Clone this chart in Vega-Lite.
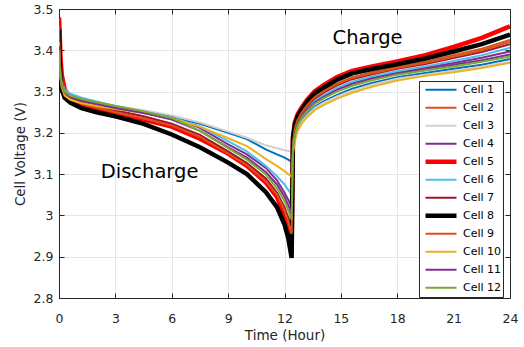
{
"$schema":"https://vega.github.io/schema/vega-lite/v6.json",
"width":451,"height":289,
"autosize":{"type":"none"},
"padding":{"left":59,"top":9,"right":14,"bottom":49},
"background":"white",
"config":{
 "view":{"stroke":null},
 "font":"DejaVu Sans",
 "axis":{"domain":true,"domainColor":"#262626","domainWidth":1,"tickColor":"#262626","tickSize":-5,"labelColor":"#262626","titleColor":"#262626","labelFont":"DejaVu Sans","titleFont":"DejaVu Sans","labelFontSize":12.5,"titleFontSize":13.5,"titleFontWeight":"normal","gridColor":"#e6e6e6","labelFlush":false}
},
"layer":[
{
"data":{"values":[
{"s":"Cell 1","t":0,"v":3.45},{"s":"Cell 1","t":0.03,"v":3.39},{"s":"Cell 1","t":0.08,"v":3.345},{"s":"Cell 1","t":0.15,"v":3.32},{"s":"Cell 1","t":0.3,"v":3.3},{"s":"Cell 1","t":0.6,"v":3.29},{"s":"Cell 1","t":1.2,"v":3.28},{"s":"Cell 1","t":2,"v":3.27},{"s":"Cell 1","t":3,"v":3.26},{"s":"Cell 1","t":4.5,"v":3.25},{"s":"Cell 1","t":6,"v":3.238},{"s":"Cell 1","t":7.5,"v":3.222},{"s":"Cell 1","t":9,"v":3.2},{"s":"Cell 1","t":10,"v":3.185},{"s":"Cell 1","t":11,"v":3.16},{"s":"Cell 1","t":11.6,"v":3.148},{"s":"Cell 1","t":12,"v":3.14},{"s":"Cell 1","t":12.2,"v":3.135},{"s":"Cell 1","t":12.38,"v":3.13},
{"s":"Cell 1","t":12.45,"v":3.157},{"s":"Cell 1","t":12.55,"v":3.188},{"s":"Cell 1","t":12.7,"v":3.212},{"s":"Cell 1","t":12.9,"v":3.229},{"s":"Cell 1","t":13.2,"v":3.246},{"s":"Cell 1","t":13.6,"v":3.263},{"s":"Cell 1","t":14.1,"v":3.277},{"s":"Cell 1","t":14.8,"v":3.292},{"s":"Cell 1","t":15.6,"v":3.307},{"s":"Cell 1","t":16.6,"v":3.32},{"s":"Cell 1","t":18,"v":3.335},{"s":"Cell 1","t":19.5,"v":3.345},{"s":"Cell 1","t":21,"v":3.355},{"s":"Cell 1","t":22.5,"v":3.365},{"s":"Cell 1","t":24,"v":3.379},

{"s":"Cell 2","t":0,"v":3.46},{"s":"Cell 2","t":0.03,"v":3.39},{"s":"Cell 2","t":0.08,"v":3.34},{"s":"Cell 2","t":0.15,"v":3.315},{"s":"Cell 2","t":0.3,"v":3.29},{"s":"Cell 2","t":0.6,"v":3.28},{"s":"Cell 2","t":1.2,"v":3.268},{"s":"Cell 2","t":2,"v":3.258},{"s":"Cell 2","t":3,"v":3.247},{"s":"Cell 2","t":4.5,"v":3.232},{"s":"Cell 2","t":6,"v":3.214},{"s":"Cell 2","t":7.5,"v":3.186},{"s":"Cell 2","t":9,"v":3.147},{"s":"Cell 2","t":10,"v":3.118},{"s":"Cell 2","t":11,"v":3.078},{"s":"Cell 2","t":11.6,"v":3.044},{"s":"Cell 2","t":12,"v":3.005},{"s":"Cell 2","t":12.2,"v":2.975},{"s":"Cell 2","t":12.38,"v":2.945},
{"s":"Cell 2","t":12.45,"v":3.179},{"s":"Cell 2","t":12.55,"v":3.212},{"s":"Cell 2","t":12.7,"v":3.234},{"s":"Cell 2","t":12.9,"v":3.249},{"s":"Cell 2","t":13.2,"v":3.268},{"s":"Cell 2","t":13.6,"v":3.287},{"s":"Cell 2","t":14.1,"v":3.303},{"s":"Cell 2","t":14.8,"v":3.32},{"s":"Cell 2","t":15.6,"v":3.335},{"s":"Cell 2","t":16.6,"v":3.346},{"s":"Cell 2","t":18,"v":3.359},{"s":"Cell 2","t":19.5,"v":3.372},{"s":"Cell 2","t":21,"v":3.388},{"s":"Cell 2","t":22.5,"v":3.404},{"s":"Cell 2","t":24,"v":3.425},

{"s":"Cell 3","t":0,"v":3.44},{"s":"Cell 3","t":0.03,"v":3.39},{"s":"Cell 3","t":0.08,"v":3.345},{"s":"Cell 3","t":0.15,"v":3.322},{"s":"Cell 3","t":0.3,"v":3.305},{"s":"Cell 3","t":0.6,"v":3.293},{"s":"Cell 3","t":1.2,"v":3.283},{"s":"Cell 3","t":2,"v":3.275},{"s":"Cell 3","t":3,"v":3.265},{"s":"Cell 3","t":4.5,"v":3.255},{"s":"Cell 3","t":6,"v":3.242},{"s":"Cell 3","t":7.5,"v":3.225},{"s":"Cell 3","t":9,"v":3.203},{"s":"Cell 3","t":10,"v":3.188},{"s":"Cell 3","t":11,"v":3.17},{"s":"Cell 3","t":11.6,"v":3.163},{"s":"Cell 3","t":12,"v":3.158},{"s":"Cell 3","t":12.2,"v":3.156},{"s":"Cell 3","t":12.38,"v":3.154},
{"s":"Cell 3","t":12.45,"v":3.17},{"s":"Cell 3","t":12.55,"v":3.19},{"s":"Cell 3","t":12.7,"v":3.21},{"s":"Cell 3","t":12.9,"v":3.226},{"s":"Cell 3","t":13.2,"v":3.242},{"s":"Cell 3","t":13.6,"v":3.26},{"s":"Cell 3","t":14.1,"v":3.273},{"s":"Cell 3","t":14.8,"v":3.288},{"s":"Cell 3","t":15.6,"v":3.302},{"s":"Cell 3","t":16.6,"v":3.316},{"s":"Cell 3","t":18,"v":3.331},{"s":"Cell 3","t":19.5,"v":3.341},{"s":"Cell 3","t":21,"v":3.35},{"s":"Cell 3","t":22.5,"v":3.36},{"s":"Cell 3","t":24,"v":3.372},

{"s":"Cell 4","t":0,"v":3.42},{"s":"Cell 4","t":0.03,"v":3.38},{"s":"Cell 4","t":0.08,"v":3.342},{"s":"Cell 4","t":0.15,"v":3.32},{"s":"Cell 4","t":0.3,"v":3.3},{"s":"Cell 4","t":0.6,"v":3.29},{"s":"Cell 4","t":1.2,"v":3.28},{"s":"Cell 4","t":2,"v":3.272},{"s":"Cell 4","t":3,"v":3.262},{"s":"Cell 4","t":4.5,"v":3.25},{"s":"Cell 4","t":6,"v":3.238},{"s":"Cell 4","t":7.5,"v":3.212},{"s":"Cell 4","t":9,"v":3.172},{"s":"Cell 4","t":10,"v":3.148},{"s":"Cell 4","t":11,"v":3.115},{"s":"Cell 4","t":11.6,"v":3.085},{"s":"Cell 4","t":12,"v":3.055},{"s":"Cell 4","t":12.2,"v":3.038},{"s":"Cell 4","t":12.38,"v":3.02},
{"s":"Cell 4","t":12.45,"v":3.168},{"s":"Cell 4","t":12.55,"v":3.2},{"s":"Cell 4","t":12.7,"v":3.223},{"s":"Cell 4","t":12.9,"v":3.239},{"s":"Cell 4","t":13.2,"v":3.257},{"s":"Cell 4","t":13.6,"v":3.275},{"s":"Cell 4","t":14.1,"v":3.29},{"s":"Cell 4","t":14.8,"v":3.306},{"s":"Cell 4","t":15.6,"v":3.321},{"s":"Cell 4","t":16.6,"v":3.333},{"s":"Cell 4","t":18,"v":3.346},{"s":"Cell 4","t":19.5,"v":3.358},{"s":"Cell 4","t":21,"v":3.369},{"s":"Cell 4","t":22.5,"v":3.382},{"s":"Cell 4","t":24,"v":3.397},

{"s":"Cell 5","t":0,"v":3.48},{"s":"Cell 5","t":0.03,"v":3.45},{"s":"Cell 5","t":0.08,"v":3.38},{"s":"Cell 5","t":0.15,"v":3.34},{"s":"Cell 5","t":0.3,"v":3.305},{"s":"Cell 5","t":0.6,"v":3.285},{"s":"Cell 5","t":1.2,"v":3.27},{"s":"Cell 5","t":2,"v":3.258},{"s":"Cell 5","t":3,"v":3.247},{"s":"Cell 5","t":4.5,"v":3.232},{"s":"Cell 5","t":6,"v":3.215},{"s":"Cell 5","t":7.5,"v":3.186},{"s":"Cell 5","t":9,"v":3.15},{"s":"Cell 5","t":10,"v":3.12},{"s":"Cell 5","t":11,"v":3.08},{"s":"Cell 5","t":11.6,"v":3.045},{"s":"Cell 5","t":12,"v":3.0},{"s":"Cell 5","t":12.2,"v":2.97},{"s":"Cell 5","t":12.38,"v":2.935},
{"s":"Cell 5","t":12.45,"v":3.19},{"s":"Cell 5","t":12.55,"v":3.225},{"s":"Cell 5","t":12.7,"v":3.245},{"s":"Cell 5","t":12.9,"v":3.26},{"s":"Cell 5","t":13.2,"v":3.28},{"s":"Cell 5","t":13.6,"v":3.3},{"s":"Cell 5","t":14.1,"v":3.316},{"s":"Cell 5","t":14.8,"v":3.335},{"s":"Cell 5","t":15.6,"v":3.35},{"s":"Cell 5","t":16.6,"v":3.36},{"s":"Cell 5","t":18,"v":3.373},{"s":"Cell 5","t":19.5,"v":3.388},{"s":"Cell 5","t":21,"v":3.408},{"s":"Cell 5","t":22.5,"v":3.43},{"s":"Cell 5","t":24,"v":3.458},

{"s":"Cell 6","t":0,"v":3.43},{"s":"Cell 6","t":0.03,"v":3.39},{"s":"Cell 6","t":0.08,"v":3.347},{"s":"Cell 6","t":0.15,"v":3.325},{"s":"Cell 6","t":0.3,"v":3.305},{"s":"Cell 6","t":0.6,"v":3.295},{"s":"Cell 6","t":1.2,"v":3.285},{"s":"Cell 6","t":2,"v":3.276},{"s":"Cell 6","t":3,"v":3.265},{"s":"Cell 6","t":4.5,"v":3.252},{"s":"Cell 6","t":6,"v":3.238},{"s":"Cell 6","t":7.5,"v":3.215},{"s":"Cell 6","t":9,"v":3.18},{"s":"Cell 6","t":10,"v":3.155},{"s":"Cell 6","t":11,"v":3.12},{"s":"Cell 6","t":11.6,"v":3.095},{"s":"Cell 6","t":12,"v":3.075},{"s":"Cell 6","t":12.2,"v":3.062},{"s":"Cell 6","t":12.38,"v":3.05},
{"s":"Cell 6","t":12.45,"v":3.17},{"s":"Cell 6","t":12.55,"v":3.203},{"s":"Cell 6","t":12.7,"v":3.225},{"s":"Cell 6","t":12.9,"v":3.241},{"s":"Cell 6","t":13.2,"v":3.259},{"s":"Cell 6","t":13.6,"v":3.278},{"s":"Cell 6","t":14.1,"v":3.292},{"s":"Cell 6","t":14.8,"v":3.309},{"s":"Cell 6","t":15.6,"v":3.324},{"s":"Cell 6","t":16.6,"v":3.336},{"s":"Cell 6","t":18,"v":3.349},{"s":"Cell 6","t":19.5,"v":3.361},{"s":"Cell 6","t":21,"v":3.374},{"s":"Cell 6","t":22.5,"v":3.388},{"s":"Cell 6","t":24,"v":3.406},

{"s":"Cell 7","t":0,"v":3.47},{"s":"Cell 7","t":0.03,"v":3.4},{"s":"Cell 7","t":0.08,"v":3.345},{"s":"Cell 7","t":0.15,"v":3.318},{"s":"Cell 7","t":0.3,"v":3.295},{"s":"Cell 7","t":0.6,"v":3.285},{"s":"Cell 7","t":1.2,"v":3.274},{"s":"Cell 7","t":2,"v":3.265},{"s":"Cell 7","t":3,"v":3.255},{"s":"Cell 7","t":4.5,"v":3.24},{"s":"Cell 7","t":6,"v":3.222},{"s":"Cell 7","t":7.5,"v":3.195},{"s":"Cell 7","t":9,"v":3.155},{"s":"Cell 7","t":10,"v":3.127},{"s":"Cell 7","t":11,"v":3.09},{"s":"Cell 7","t":11.6,"v":3.055},{"s":"Cell 7","t":12,"v":3.02},{"s":"Cell 7","t":12.2,"v":2.995},{"s":"Cell 7","t":12.38,"v":2.965},
{"s":"Cell 7","t":12.45,"v":3.175},{"s":"Cell 7","t":12.55,"v":3.208},{"s":"Cell 7","t":12.7,"v":3.23},{"s":"Cell 7","t":12.9,"v":3.246},{"s":"Cell 7","t":13.2,"v":3.264},{"s":"Cell 7","t":13.6,"v":3.283},{"s":"Cell 7","t":14.1,"v":3.298},{"s":"Cell 7","t":14.8,"v":3.315},{"s":"Cell 7","t":15.6,"v":3.33},{"s":"Cell 7","t":16.6,"v":3.341},{"s":"Cell 7","t":18,"v":3.355},{"s":"Cell 7","t":19.5,"v":3.367},{"s":"Cell 7","t":21,"v":3.381},{"s":"Cell 7","t":22.5,"v":3.396},{"s":"Cell 7","t":24,"v":3.415},

{"s":"Cell 8","t":0,"v":3.45},{"s":"Cell 8","t":0.03,"v":3.38},{"s":"Cell 8","t":0.08,"v":3.33},{"s":"Cell 8","t":0.15,"v":3.305},{"s":"Cell 8","t":0.3,"v":3.285},{"s":"Cell 8","t":0.6,"v":3.273},{"s":"Cell 8","t":1.2,"v":3.26},{"s":"Cell 8","t":2,"v":3.25},{"s":"Cell 8","t":3,"v":3.24},{"s":"Cell 8","t":4.5,"v":3.222},{"s":"Cell 8","t":6,"v":3.196},{"s":"Cell 8","t":7.5,"v":3.165},{"s":"Cell 8","t":9,"v":3.128},{"s":"Cell 8","t":10,"v":3.1},{"s":"Cell 8","t":11,"v":3.057},{"s":"Cell 8","t":11.6,"v":3.02},{"s":"Cell 8","t":12,"v":2.978},{"s":"Cell 8","t":12.2,"v":2.945},{"s":"Cell 8","t":12.38,"v":2.897},
{"s":"Cell 8","t":12.45,"v":3.185},{"s":"Cell 8","t":12.55,"v":3.22},{"s":"Cell 8","t":12.7,"v":3.24},{"s":"Cell 8","t":12.9,"v":3.255},{"s":"Cell 8","t":13.2,"v":3.275},{"s":"Cell 8","t":13.6,"v":3.295},{"s":"Cell 8","t":14.1,"v":3.31},{"s":"Cell 8","t":14.8,"v":3.329},{"s":"Cell 8","t":15.6,"v":3.344},{"s":"Cell 8","t":16.6,"v":3.354},{"s":"Cell 8","t":18,"v":3.366},{"s":"Cell 8","t":19.5,"v":3.38},{"s":"Cell 8","t":21,"v":3.397},{"s":"Cell 8","t":22.5,"v":3.415},{"s":"Cell 8","t":24,"v":3.438},

{"s":"Cell 9","t":0,"v":3.46},{"s":"Cell 9","t":0.03,"v":3.39},{"s":"Cell 9","t":0.08,"v":3.34},{"s":"Cell 9","t":0.15,"v":3.315},{"s":"Cell 9","t":0.3,"v":3.292},{"s":"Cell 9","t":0.6,"v":3.282},{"s":"Cell 9","t":1.2,"v":3.27},{"s":"Cell 9","t":2,"v":3.261},{"s":"Cell 9","t":3,"v":3.25},{"s":"Cell 9","t":4.5,"v":3.235},{"s":"Cell 9","t":6,"v":3.218},{"s":"Cell 9","t":7.5,"v":3.19},{"s":"Cell 9","t":9,"v":3.15},{"s":"Cell 9","t":10,"v":3.122},{"s":"Cell 9","t":11,"v":3.083},{"s":"Cell 9","t":11.6,"v":3.05},{"s":"Cell 9","t":12,"v":3.012},{"s":"Cell 9","t":12.2,"v":2.985},{"s":"Cell 9","t":12.38,"v":2.955},
{"s":"Cell 9","t":12.45,"v":3.177},{"s":"Cell 9","t":12.55,"v":3.211},{"s":"Cell 9","t":12.7,"v":3.232},{"s":"Cell 9","t":12.9,"v":3.248},{"s":"Cell 9","t":13.2,"v":3.267},{"s":"Cell 9","t":13.6,"v":3.286},{"s":"Cell 9","t":14.1,"v":3.301},{"s":"Cell 9","t":14.8,"v":3.318},{"s":"Cell 9","t":15.6,"v":3.333},{"s":"Cell 9","t":16.6,"v":3.344},{"s":"Cell 9","t":18,"v":3.357},{"s":"Cell 9","t":19.5,"v":3.37},{"s":"Cell 9","t":21,"v":3.384},{"s":"Cell 9","t":22.5,"v":3.4},{"s":"Cell 9","t":24,"v":3.42},

{"s":"Cell 10","t":0,"v":3.42},{"s":"Cell 10","t":0.03,"v":3.37},{"s":"Cell 10","t":0.08,"v":3.33},{"s":"Cell 10","t":0.15,"v":3.31},{"s":"Cell 10","t":0.3,"v":3.29},{"s":"Cell 10","t":0.6,"v":3.28},{"s":"Cell 10","t":1.2,"v":3.272},{"s":"Cell 10","t":2,"v":3.265},{"s":"Cell 10","t":3,"v":3.258},{"s":"Cell 10","t":4.5,"v":3.248},{"s":"Cell 10","t":6,"v":3.235},{"s":"Cell 10","t":7.5,"v":3.215},{"s":"Cell 10","t":9,"v":3.187},{"s":"Cell 10","t":10,"v":3.168},{"s":"Cell 10","t":11,"v":3.137},{"s":"Cell 10","t":11.6,"v":3.12},{"s":"Cell 10","t":12,"v":3.107},{"s":"Cell 10","t":12.2,"v":3.1},{"s":"Cell 10","t":12.38,"v":3.094},
{"s":"Cell 10","t":12.45,"v":3.15},{"s":"Cell 10","t":12.55,"v":3.18},{"s":"Cell 10","t":12.7,"v":3.205},{"s":"Cell 10","t":12.9,"v":3.222},{"s":"Cell 10","t":13.2,"v":3.238},{"s":"Cell 10","t":13.6,"v":3.255},{"s":"Cell 10","t":14.1,"v":3.268},{"s":"Cell 10","t":14.8,"v":3.283},{"s":"Cell 10","t":15.6,"v":3.297},{"s":"Cell 10","t":16.6,"v":3.311},{"s":"Cell 10","t":18,"v":3.327},{"s":"Cell 10","t":19.5,"v":3.338},{"s":"Cell 10","t":21,"v":3.347},{"s":"Cell 10","t":22.5,"v":3.357},{"s":"Cell 10","t":24,"v":3.37},

{"s":"Cell 11","t":0,"v":3.41},{"s":"Cell 11","t":0.03,"v":3.37},{"s":"Cell 11","t":0.08,"v":3.34},{"s":"Cell 11","t":0.15,"v":3.318},{"s":"Cell 11","t":0.3,"v":3.298},{"s":"Cell 11","t":0.6,"v":3.288},{"s":"Cell 11","t":1.2,"v":3.278},{"s":"Cell 11","t":2,"v":3.27},{"s":"Cell 11","t":3,"v":3.26},{"s":"Cell 11","t":4.5,"v":3.248},{"s":"Cell 11","t":6,"v":3.232},{"s":"Cell 11","t":7.5,"v":3.205},{"s":"Cell 11","t":9,"v":3.165},{"s":"Cell 11","t":10,"v":3.14},{"s":"Cell 11","t":11,"v":3.105},{"s":"Cell 11","t":11.6,"v":3.075},{"s":"Cell 11","t":12,"v":3.045},{"s":"Cell 11","t":12.2,"v":3.025},{"s":"Cell 11","t":12.38,"v":3.005},
{"s":"Cell 11","t":12.45,"v":3.166},{"s":"Cell 11","t":12.55,"v":3.198},{"s":"Cell 11","t":12.7,"v":3.221},{"s":"Cell 11","t":12.9,"v":3.237},{"s":"Cell 11","t":13.2,"v":3.255},{"s":"Cell 11","t":13.6,"v":3.273},{"s":"Cell 11","t":14.1,"v":3.287},{"s":"Cell 11","t":14.8,"v":3.304},{"s":"Cell 11","t":15.6,"v":3.318},{"s":"Cell 11","t":16.6,"v":3.331},{"s":"Cell 11","t":18,"v":3.344},{"s":"Cell 11","t":19.5,"v":3.355},{"s":"Cell 11","t":21,"v":3.365},{"s":"Cell 11","t":22.5,"v":3.376},{"s":"Cell 11","t":24,"v":3.39},

{"s":"Cell 12","t":0,"v":3.4},{"s":"Cell 12","t":0.03,"v":3.37},{"s":"Cell 12","t":0.08,"v":3.34},{"s":"Cell 12","t":0.15,"v":3.32},{"s":"Cell 12","t":0.3,"v":3.3},{"s":"Cell 12","t":0.6,"v":3.29},{"s":"Cell 12","t":1.2,"v":3.282},{"s":"Cell 12","t":2,"v":3.274},{"s":"Cell 12","t":3,"v":3.265},{"s":"Cell 12","t":4.5,"v":3.252},{"s":"Cell 12","t":6,"v":3.236},{"s":"Cell 12","t":7.5,"v":3.205},{"s":"Cell 12","t":9,"v":3.163},{"s":"Cell 12","t":10,"v":3.135},{"s":"Cell 12","t":11,"v":3.1},{"s":"Cell 12","t":11.6,"v":3.065},{"s":"Cell 12","t":12,"v":3.035},{"s":"Cell 12","t":12.2,"v":3.012},{"s":"Cell 12","t":12.38,"v":2.99},
{"s":"Cell 12","t":12.45,"v":3.163},{"s":"Cell 12","t":12.55,"v":3.195},{"s":"Cell 12","t":12.7,"v":3.218},{"s":"Cell 12","t":12.9,"v":3.235},{"s":"Cell 12","t":13.2,"v":3.252},{"s":"Cell 12","t":13.6,"v":3.27},{"s":"Cell 12","t":14.1,"v":3.284},{"s":"Cell 12","t":14.8,"v":3.3},{"s":"Cell 12","t":15.6,"v":3.314},{"s":"Cell 12","t":16.6,"v":3.327},{"s":"Cell 12","t":18,"v":3.341},{"s":"Cell 12","t":19.5,"v":3.351},{"s":"Cell 12","t":21,"v":3.361},{"s":"Cell 12","t":22.5,"v":3.372},{"s":"Cell 12","t":24,"v":3.385}
]},
"mark":{"type":"line","clip":true},
"encoding":{
 "x":{"field":"t","type":"quantitative","scale":{"domain":[0,24],"nice":false,"zero":false},
  "axis":{"title":"Time (Hour)","values":[0,3,6,9,12,15,18,21,24],"grid":true,"labelPadding":19,"titlePadding":4,"titleFontWeight":"normal"}},
 "y":{"field":"v","type":"quantitative","scale":{"domain":[2.8,3.5],"nice":false,"zero":false},
  "axis":{"title":"Cell Voltage (V)","values":[2.8,2.9,3,3.1,3.2,3.3,3.4,3.5],"format":"~g","grid":true,"labelPadding":11,"titlePadding":6,"titleFontWeight":"normal"}},
 "color":{"field":"s","type":"nominal",
  "scale":{"domain":["Cell 1","Cell 2","Cell 3","Cell 4","Cell 5","Cell 6","Cell 7","Cell 8","Cell 9","Cell 10","Cell 11","Cell 12"],
   "range":["#0072BD","#D95319","#d3d0cc","#7E2F8E","#FF0000","#4DBEEE","#A2142F","#000000","#D95319","#EDB120","#7E2F8E","#77AC30"]},
  "legend":{"title":null,"orient":"none","legendX":360,"legendY":72,"symbolType":"stroke","symbolSize":961,"clipHeight":15.4,"rowPadding":2,"padding":1,"symbolOffset":3,"labelOffset":4,"labelFontSize":11,"labelFont":"DejaVu Sans","labelColor":"#000000","fillColor":"white","strokeColor":"#262626"}},
 "strokeWidth":{"field":"s","type":"nominal",
  "scale":{"type":"ordinal","domain":["Cell 1","Cell 2","Cell 3","Cell 4","Cell 5","Cell 6","Cell 7","Cell 8","Cell 9","Cell 10","Cell 11","Cell 12"],
   "range":[2,2,2,2,4.5,2,2,4.5,2,2,2,2]},
  "legend":{"title":null,"orient":"none","legendX":360,"legendY":72,"symbolType":"stroke","symbolSize":961,"clipHeight":15.4,"rowPadding":2,"padding":1,"symbolOffset":3,"labelOffset":4,"labelFontSize":11,"labelFont":"DejaVu Sans","labelColor":"#000000","fillColor":"white","strokeColor":"#262626"}}
}
},
{
"data":{"values":[{"label":"Discharge","t":4.82,"v":3.105},{"label":"Charge","t":16.42,"v":3.43}]},
"mark":{"type":"text","fontSize":19.5,"font":"DejaVu Sans","color":"#000000","align":"center","baseline":"middle"},
"encoding":{
 "x":{"field":"t","type":"quantitative","scale":{"domain":[0,24],"nice":false,"zero":false},
  "axis":{"orient":"top","title":null,"labels":false,"grid":false,"values":[0,3,6,9,12,15,18,21,24]}},
 "y":{"field":"v","type":"quantitative","scale":{"domain":[2.8,3.5],"nice":false,"zero":false},
  "axis":{"orient":"right","title":null,"labels":false,"grid":false,"values":[2.8,2.9,3,3.1,3.2,3.3,3.4,3.5]}},
 "text":{"field":"label"}
}
}
],
"resolve":{"axis":{"x":"independent","y":"independent"}}
}
